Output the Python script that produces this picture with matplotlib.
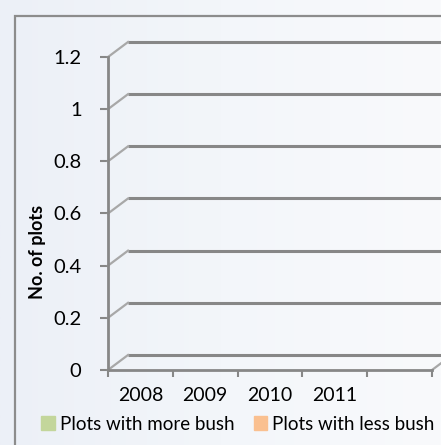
import numpy as np
import matplotlib
matplotlib.use("Agg")
import matplotlib.pyplot as plt
import matplotlib.transforms as mtransforms
from matplotlib.patches import Rectangle, Patch
from matplotlib.colors import LinearSegmentedColormap

plt.rcParams['font.family'] = ['Lato', 'DejaVu Sans']

categories = ['2008', '2009', '2010', '2011', '']
more_bush = [0, 0, 0, 0, 0]
less_bush = [0, 0, 0, 0, 0]
yticks = [0, 0.2, 0.4, 0.6, 0.8, 1.0, 1.2]
ytick_labels = ['0', '0.2', '0.4', '0.6', '0.8', '1', '1.2']

W, H = 441, 445
fig = plt.figure(figsize=(W / 100, H / 100), dpi=100)

# background gradient
bg = fig.add_axes([0, 0, 1, 1], zorder=-10)
grad = np.linspace(0, 1, 256).reshape(1, -1)
cmap = LinearSegmentedColormap.from_list('bg', ['#ecf0f7', '#f3f6fa', '#f9fafc'])
bg.imshow(grad, aspect='auto', cmap=cmap, extent=[0, 1, 0, 1])
bg.set_axis_off()

# outer frame
fig.patches.append(Rectangle((15 / W, -0.1), 1.2, 1 - 16 / H + 0.1, transform=fig.transFigure,
                             fill=False, edgecolor='#8c8c8c', lw=1.6, zorder=-5))

left, right, top, bottom = 108, 432, 57, 370
ax = fig.add_axes([left / W, (H - bottom) / H, (right - left) / W, (bottom - top) / H])
ax.set_facecolor('none')
n = len(categories)
ax.set_xlim(0, n)
ax.set_ylim(0, 1.2)

dx, dy = 20 / 100, 15 / 100  # inches
off = mtransforms.ScaledTranslation(dx, dy, fig.dpi_scale_trans)
back = ax.transData + off

x = np.arange(n) + 0.5
ax.bar(x - 0.2, more_bush, 0.35, color='#c3d69b')
ax.bar(x + 0.2, less_bush, 0.35, color='#fac090')

for yv in yticks:
    ax.plot([0, n + 0.2], [yv, yv], transform=back, color='#878787', lw=2.2, clip_on=False,
            solid_capstyle='butt')
    p0 = ax.transData.transform((0, yv))
    p1 = back.transform((0, yv))
    ax.plot([p0[0], p1[0]], [p0[1], p1[1]], transform=None, color='#a8a8a8', lw=1.6,
            clip_on=False)
# floor right diagonal
p0 = ax.transData.transform((n, 0))
p1 = back.transform((n, 0))
ax.plot([p0[0], p1[0]], [p0[1], p1[1]], transform=None, color='#a8a8a8', lw=1.6, clip_on=False)

for s in ['top', 'right']:
    ax.spines[s].set_visible(False)
for s in ['left', 'bottom']:
    ax.spines[s].set_color('#878787')
    ax.spines[s].set_linewidth(2)

ax.set_yticks(yticks)
ax.set_yticklabels(ytick_labels)
ax.set_xticks(np.arange(n + 1))
ax.set_xticklabels([])
ax.set_xticks(x, minor=True)
ax.set_xticklabels(categories, minor=True)
ax.tick_params(axis='x', which='minor', length=0, pad=12, labelsize=14)
ax.tick_params(axis='x', which='major', length=5, width=1.5, color='#878787')
ax.tick_params(axis='y', length=6, width=1.5, color='#878787', labelsize=14.5, pad=13)
ax.set_ylabel('No. of plots', fontsize=13, fontweight='bold', va='center')
ax.yaxis.set_label_coords(38, H - 252, transform=mtransforms.IdentityTransform())

handles = [Patch(facecolor='#c3d69b', edgecolor='#c3d69b'), Patch(facecolor='#fac090', edgecolor='#fac090')]
fig.legend(handles, ['Plots with more bush', 'Plots with less bush'], loc='center',
           bbox_to_anchor=(238 / W, (H - 424) / H), ncol=2, frameon=False, fontsize=13.5,
           handlelength=0.7, handleheight=0.7, handletextpad=0.3, columnspacing=1.0)

fig.savefig('out.png', dpi=100)
